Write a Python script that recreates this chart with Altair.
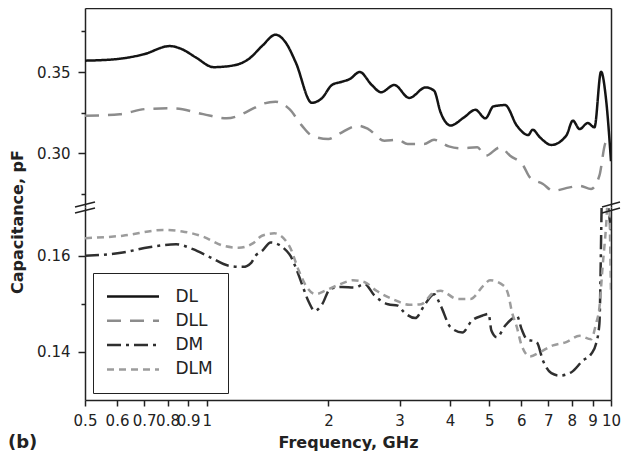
import altair as alt
import pandas as pd

FONT = "DejaVu Sans"
INK = "#222222"

series_names = ["DL", "DLL", "DM", "DLM"]
series_colors = ["#141414", "#8c8c8c", "#2f2f2f", "#9c9c9c"]
series_dashes = [[1, 0], [14, 9], [14, 5, 3, 5], [7, 5]]

x_tick_values = [0.5, 0.6, 0.7, 0.8, 0.9, 1, 2, 3, 4, 5, 6, 7, 8, 9, 10]
upper_tick_values = [0.275, 0.30, 0.325, 0.35, 0.375]
lower_tick_values = [0.14, 0.15, 0.16]
upper_domain = [0.2667, 0.3895]
lower_domain = [0.1299, 0.1702]

dl_freq = [0.5, 0.6, 0.7, 0.81, 0.87, 0.94, 1.04, 1.16, 1.27, 1.37, 1.48, 1.57, 1.66, 1.82, 1.93,
           2.04, 2.16, 2.26, 2.39, 2.56, 2.70, 2.91, 3.17, 3.48, 3.65, 3.79, 4.01, 4.33, 4.62, 4.89,
           5.12, 5.47, 5.85, 6.24, 6.40, 6.67, 7.12, 7.75, 8.05, 8.36, 8.76, 9.10, 9.45, 9.72, 10.0]
dl_cap = [0.357, 0.358, 0.361, 0.366, 0.364, 0.359, 0.353, 0.354, 0.358, 0.366, 0.373, 0.368, 0.356, 0.331, 0.334,
          0.342, 0.344, 0.3457, 0.350, 0.342, 0.3375, 0.342, 0.334, 0.3405, 0.3385, 0.325, 0.317, 0.322, 0.3267, 0.3214,
          0.3288, 0.3296, 0.3169, 0.3111, 0.3144, 0.3097, 0.305, 0.3107, 0.320, 0.3148, 0.3185, 0.3159, 0.3502, 0.3333, 0.295]

dll_freq = [0.5, 0.61, 0.71, 0.83, 0.98, 1.12, 1.32, 1.37, 1.48, 1.60, 1.72, 1.82, 2.00, 2.12, 2.37, 2.51,
            2.75, 2.97, 3.14, 3.45, 3.65, 3.97, 4.25, 4.67, 4.89, 5.32, 5.63, 6.07, 6.30, 6.79, 7.19, 7.90,
            8.36, 8.93, 9.36, 9.72, 10.0]
dll_cap = [0.323, 0.324, 0.3272, 0.3276, 0.324, 0.3214, 0.3282, 0.3302, 0.3317, 0.3272, 0.3169, 0.3107, 0.3086,
           0.3117, 0.3169, 0.3148, 0.3076, 0.3082, 0.3056, 0.3056, 0.3082, 0.3041, 0.3029, 0.3035, 0.2983, 0.3035,
           0.2983, 0.2922, 0.285, 0.2809, 0.2767, 0.2788, 0.2798, 0.2778, 0.286, 0.3066, 0.305]

dm_freq = [0.5, 0.62, 0.72, 0.84, 0.925, 1.02, 1.14, 1.23, 1.29, 1.32, 1.37, 1.44, 1.60, 1.66, 1.72, 1.79,
           1.85, 1.93, 2.02, 2.16, 2.32, 2.46, 2.60, 2.81, 2.97, 3.08, 3.28, 3.45, 3.65, 3.79, 4.01, 4.29,
           4.53, 4.80, 4.98, 5.06, 5.22, 5.47, 5.68, 5.85, 6.01, 6.19, 6.55, 6.79, 7.12, 7.46, 7.98, 8.51,
           8.93, 9.18, 9.36, 9.53, 10.0]
dm_cap = [0.160, 0.1607, 0.1618, 0.1624, 0.1614, 0.1597, 0.1579, 0.1577, 0.1586, 0.160, 0.161, 0.1628, 0.1604,
          0.1576, 0.1541, 0.1503, 0.1485, 0.1499, 0.1531, 0.1535, 0.1534, 0.1541, 0.1517, 0.1499, 0.1496, 0.1482,
          0.147, 0.1496, 0.152, 0.1496, 0.1451, 0.144, 0.1465, 0.1475, 0.1479, 0.1444, 0.143, 0.1454, 0.1468,
          0.1475, 0.1447, 0.1426, 0.142, 0.1381, 0.1355, 0.135, 0.1357, 0.1381, 0.1395, 0.1416, 0.1458, 0.176, 0.165]

dlm_freq = [0.5, 0.62, 0.78, 0.87, 0.98, 1.10, 1.20, 1.30, 1.37, 1.47, 1.60, 1.69, 1.75, 1.86, 1.96, 2.14,
            2.30, 2.46, 2.63, 2.91, 3.17, 3.39, 3.65, 3.79, 4.17, 4.49, 4.84, 5.02, 5.42, 5.58, 5.68, 5.85,
            6.01, 6.30, 6.67, 7.19, 7.75, 8.36, 8.93, 9.18, 9.36, 9.53, 9.72, 9.86, 10.0]
dlm_cap = [0.1637, 0.1642, 0.1654, 0.1651, 0.164, 0.1621, 0.1617, 0.1626, 0.1642, 0.1647, 0.1621, 0.1569, 0.1541,
           0.152, 0.1527, 0.1541, 0.1549, 0.1545, 0.1527, 0.1508, 0.1498, 0.1499, 0.1524, 0.1527, 0.151, 0.151,
           0.1538, 0.1549, 0.1538, 0.1517, 0.1485, 0.1451, 0.1413, 0.139, 0.1399, 0.1413, 0.142, 0.1433, 0.1426,
           0.1458, 0.1492, 0.1576, 0.166, 0.174, 0.152]


def frame(name, f, c):
    return pd.DataFrame({"series": name, "freq": f, "cap": c})


upper_df = pd.concat([frame("DL", dl_freq, dl_cap), frame("DLL", dll_freq, dll_cap)], ignore_index=True)
lower_df = pd.concat([frame("DM", dm_freq, dm_cap), frame("DLM", dlm_freq, dlm_cap)], ignore_index=True)

W, H_UP, H_LO = 526, 199, 193

x_scale = alt.Scale(type="log", domain=[0.5, 10], nice=False)
color_scale = alt.Scale(domain=series_names, range=series_colors)
dash_scale = alt.Scale(domain=series_names, range=series_dashes)
y_up_scale = alt.Scale(domain=upper_domain, nice=False, zero=False)
y_lo_scale = alt.Scale(domain=lower_domain, nice=False, zero=False)

legend = alt.Legend(
    title=None, orient="none", legendX=8, legendY=265, direction="vertical",
    strokeColor=INK, fillColor="white", padding=15,
    symbolType="M-4,0H4", symbolSize=169, symbolStrokeWidth=2.5,
    symbolOffset=16.5, labelOffset=34, rowPadding=6.3,
    labelFont=FONT, labelFontSize=17, labelColor=INK, labelLimit=200,
)

common = dict(grid=False, domainColor=INK, domainWidth=1.5, tickColor=INK, tickWidth=1.5,
              labelFont=FONT, labelColor=INK, titleFont=FONT, titleColor=INK)

x_top_axis = alt.Axis(orient="top", labels=False, ticks=False, title=None, **common)
x_bottom_axis = alt.Axis(orient="bottom", values=x_tick_values, format="~g", labelOverlap=False,
                         labelFlush=False, tickSize=6, labelPadding=7, labelFontSize=15,
                         title="Frequency, GHz", titleFontSize=16, titleFontWeight="bold",
                         titleBaseline="alphabetic", titleY=47, **common)
y_right_axis = alt.Axis(orient="right", labels=False, ticks=False, title=None, **common)

y_upper_axis = alt.Axis(
    orient="left", values=upper_tick_values,
    labelExpr="round(datum.value*1000) % 50 == 0 ? format(datum.value, '.2f') : ''",
    tickSize={"condition": {"test": "round(datum.value*1000) % 50 != 0", "value": 4}, "value": 7},
    labelPadding=8, labelFontSize=15, title=None, **common)
y_lower_axis = alt.Axis(
    orient="left", values=lower_tick_values,
    labelExpr="round(datum.value*1000) % 20 == 0 ? format(datum.value, '.2f') : ''",
    tickSize={"condition": {"test": "round(datum.value*1000) % 20 != 0", "value": 4}, "value": 7},
    labelPadding=8, labelFontSize=15,
    title="Capacitance, pF", titleFontSize=16, titleFontWeight="bold", titleAngle=270,
    titleX=-63, titleY=14.5, titleAlign="center", titleBaseline="alphabetic", **common)

# upper panel
up_lines = alt.Chart(upper_df).mark_line(clip=True, strokeWidth=2.5, interpolate="monotone").encode(
    x=alt.X("freq:Q", scale=x_scale, axis=x_top_axis),
    y=alt.Y("cap:Q", scale=y_up_scale, axis=y_upper_axis),
    color=alt.Color("series:N", scale=color_scale, legend=legend),
    strokeDash=alt.StrokeDash("series:N", scale=dash_scale, legend=legend),
    detail="series:N",
)
up_right = alt.Chart(upper_df).mark_point(opacity=0).encode(
    x=alt.X("freq:Q", scale=x_scale, axis=x_top_axis),
    y=alt.Y("cap:Q", scale=y_up_scale, axis=y_right_axis),
)
upper = alt.layer(up_lines, up_right).resolve_axis(y="independent").properties(width=W, height=H_UP)

# lower panel
lo_lines = alt.Chart(lower_df).mark_line(clip=True, strokeWidth=2.5, interpolate="monotone").encode(
    x=alt.X("freq:Q", scale=x_scale, axis=x_bottom_axis),
    y=alt.Y("cap:Q", scale=y_lo_scale, axis=y_lower_axis),
    color=alt.Color("series:N", scale=color_scale, legend=legend),
    strokeDash=alt.StrokeDash("series:N", scale=dash_scale, legend=legend),
    detail="series:N",
)
lo_right = alt.Chart(lower_df).mark_point(opacity=0).encode(
    x=alt.X("freq:Q", scale=x_scale, axis=x_bottom_axis),
    y=alt.Y("cap:Q", scale=y_lo_scale, axis=y_right_axis),
)


def slash(x0, yc, half=10):
    return alt.Chart(alt.Data(values=[{}])).mark_rule(color=INK, strokeWidth=1.5).encode(
        x=alt.value(x0 - half), x2=alt.value(x0 + half), y=alt.value(yc + 2.5), y2=alt.value(yc - 2.5))


panel_label = alt.Chart(alt.Data(values=[{}])).mark_text(
    text="(b)", align="left", baseline="alphabetic", font=FONT, fontSize=18,
    fontWeight="bold", color=INK).encode(x=alt.value(-77), y=alt.value(241))

lower = alt.layer(
    lo_lines, lo_right,
    slash(0, -2.5), slash(0, 3.5), slash(W, -2.5, 9), slash(W, 3.5, 9),
    panel_label,
).resolve_axis(y="independent").properties(width=W, height=H_LO)

chart = alt.vconcat(upper, lower, spacing=0, bounds="flush").properties(
    padding={"left": 0, "top": 0, "right": 0, "bottom": 0}
).configure_view(stroke=None)

chart.save("out.html", embed_options={"renderer": "svg", "actions": False})
